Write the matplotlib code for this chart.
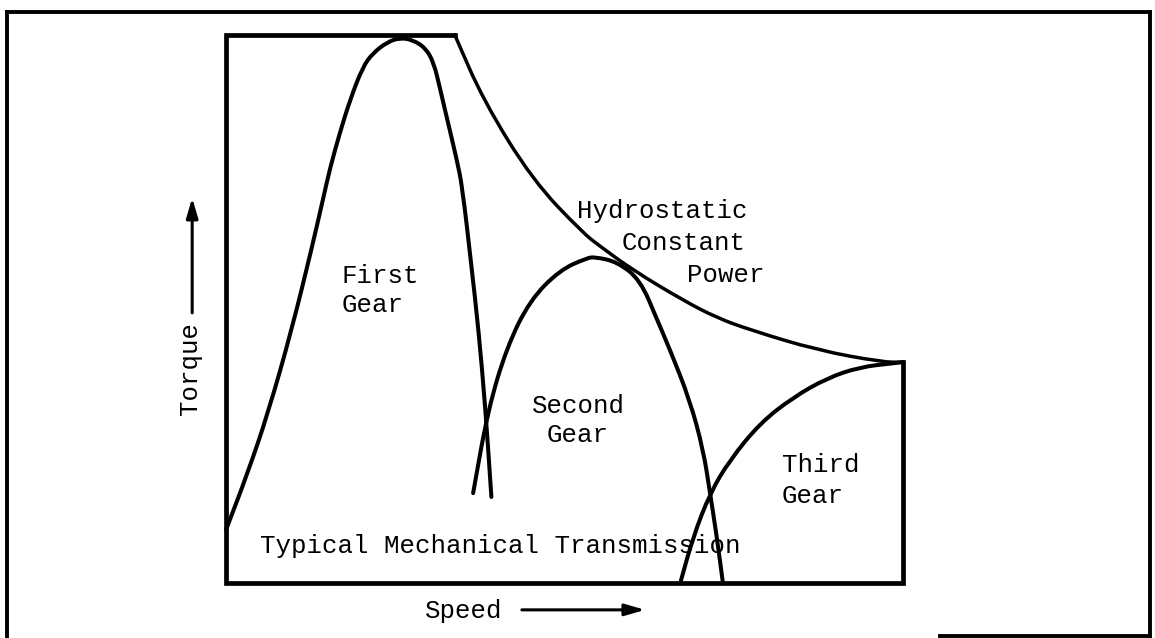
import matplotlib
matplotlib.use("Agg")
from matplotlib import pyplot as plt
from matplotlib.lines import Line2D
from matplotlib.path import Path
from matplotlib.patches import PathPatch

# speed / torque in % of the drawing box
first_speed = [0, 3.2, 6.2, 9.7, 12.7, 14.3, 15.4, 16.8, 18.3, 20.2, 21.7, 23.8, 25.7,
               27.6, 29.5, 30.7, 31.6, 32.6, 34.1, 34.9, 36.2, 37.3, 38.3, 39.2]
first_torque = [9.7, 20.1, 31.0, 46.2, 61.3, 69.9, 75.9, 82.1, 88.1, 94.2, 96.7, 98.7, 99.5,
                99.1, 97.6, 94.9, 90.3, 85.0, 77.2, 72.3, 58.4, 46.2, 32.1, 15.7]

second_speed = [36.5, 38.7, 41.5, 44.9, 49.3, 53.3, 54.5, 57.8, 61.2, 63.7, 65.6, 68.5, 70.5,
                71.5, 72.5, 73.4]
second_torque = [16.4, 31.6, 43.1, 51.6, 57.1, 59.3, 59.5, 58.6, 55.3, 48.0, 42.5, 33.4, 24.3,
                 16.4, 8.4, 0]

third_speed = [67.1, 69.0, 71.5, 74.4, 78.9, 83.8, 88.8, 93.6, 98.5, 100]
third_torque = [0, 8.4, 16.4, 22.4, 29.2, 33.9, 37.4, 39.4, 40.1, 40.3]

hydro_speed = [33.8, 38.0, 45.3, 52.7, 55.2, 60.1, 67.5, 72.5, 77.4, 87.3, 97.0, 100]
hydro_torque = [100, 88.1, 73.5, 63.9, 61.5, 57.1, 51.6, 48.4, 46.2, 42.5, 40.3, 40.3]

box_speed = [33.8, 0, 0, 100, 100]
box_torque = [100, 100, 0, 0, 40.3]

plt.rcParams["font.family"] = ["Liberation Mono", "DejaVu Sans Mono"]

fig = plt.figure(figsize=(11.55, 6.38), dpi=100)
ax = fig.add_axes([0.1957, 0.0862, 0.5861, 0.8589])
ax.set_xlim(0, 100)
ax.set_ylim(0, 100)
ax.axis("off")


def smooth_curve(xs, ys, lw):
    # read points used as quadratic bezier control points, drawn by matplotlib's Path
    pts = list(zip(xs, ys))
    verts = [pts[0]]
    codes = [Path.MOVETO]
    mids = [((a[0] + b[0]) / 2, (a[1] + b[1]) / 2) for a, b in zip(pts[:-1], pts[1:])]
    verts.append(mids[0])
    codes.append(Path.LINETO)
    for i in range(1, len(pts) - 1):
        verts += [pts[i], mids[i]]
        codes += [Path.CURVE3, Path.CURVE3]
    verts.append(pts[-1])
    codes.append(Path.LINETO)
    ax.add_patch(PathPatch(Path(verts, codes), fill=False, lw=lw, edgecolor="black",
                           capstyle="round", joinstyle="round", clip_on=False))


ax.plot(box_speed, box_torque, lw=3.4, color="black", solid_joinstyle="miter", clip_on=False)
smooth_curve(first_speed, first_torque, 2.9)
smooth_curve(second_speed, second_torque, 2.9)
smooth_curve(third_speed, third_torque, 2.9)
smooth_curve(hydro_speed, hydro_torque, 2.5)

fs = 18.5
labels = [
    ("First", 17.1, 54.7), ("Gear", 17.1, 49.5),
    ("Hydrostatic", 51.8, 66.6), ("Constant", 58.5, 60.8), ("Power", 68.1, 54.9),
    ("Second", 45.2, 31.0), ("Gear", 47.3, 25.7),
    ("Third", 82.1, 20.3), ("Gear", 82.1, 14.6),
    ("Typical Mechanical Transmission", 5.0, 5.5),
    ("Speed", 29.4, -6.4),
]
for txt, x, y in labels:
    ax.text(x, y, txt, fontsize=fs, ha="left", va="baseline", clip_on=False)

ax.text(-5.3, 39.2, "Torque", fontsize=fs, rotation=90, ha="center", va="center", clip_on=False)

arrow = dict(arrowstyle="-|>,head_length=1.2,head_width=0.35", color="black", lw=2.2,
             shrinkA=0, shrinkB=0)
ax.annotate("", xy=(-5.0, 70.3), xytext=(-5.0, 49.3), arrowprops=arrow, annotation_clip=False)
ax.annotate("", xy=(61.9, -4.9), xytext=(43.7, -4.9), arrowprops=arrow, annotation_clip=False)

# outer frame of the figure
for xs, ys in [([0.006, 0.006], [0.0, 0.981]),
               ([0.006, 0.9957], [0.981, 0.981]),
               ([0.9957, 0.9957], [0.981, 0.0]),
               ([0.814, 0.9957], [0.003, 0.003])]:
    fig.add_artist(Line2D(xs, ys, color="black", lw=2.8, transform=fig.transFigure))

fig.savefig("out.png", dpi=100)
